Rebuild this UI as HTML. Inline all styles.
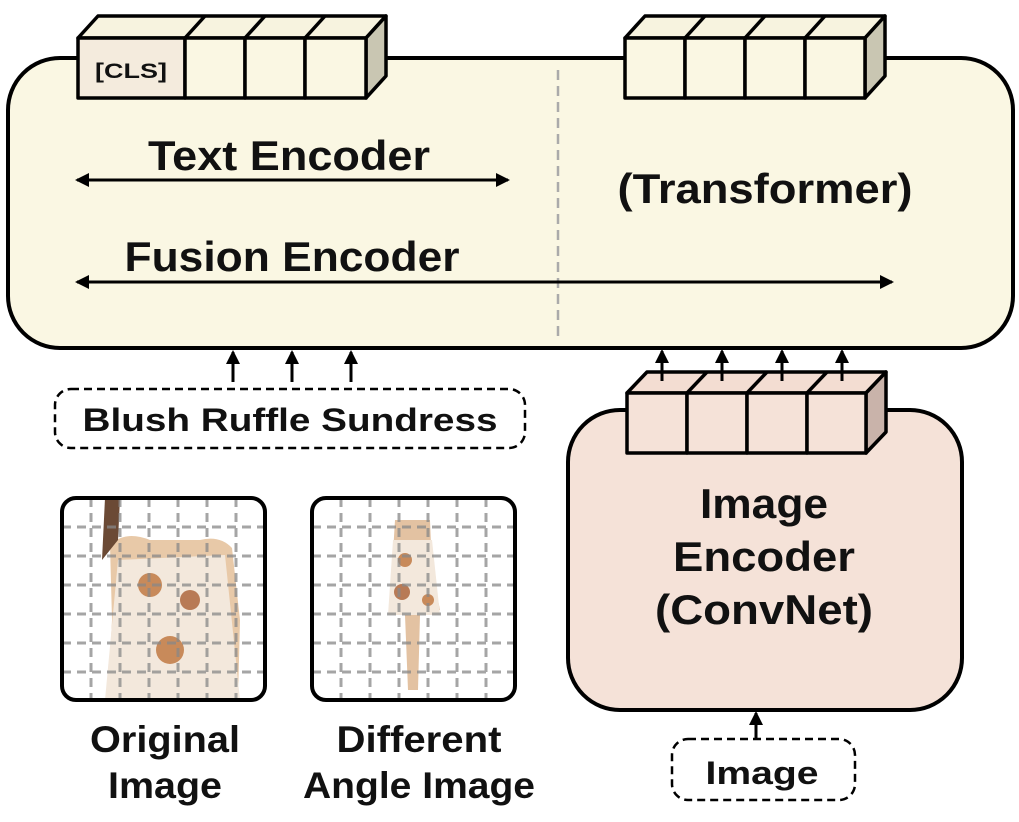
<!DOCTYPE html>
<html><head><style>body{margin:0;background:#fff}svg{display:block}text{font-family:"Liberation Sans",sans-serif;font-weight:bold;fill:#111}</style></head><body>
<svg width="1019" height="822" viewBox="0 0 1019 822">
<defs>
<marker id="au" markerWidth="14" markerHeight="14" refX="12" refY="7" orient="auto" markerUnits="userSpaceOnUse"><path d="M0,0 L14,7 L0,14 z" fill="#000"/></marker>
<marker id="as" markerWidth="14" markerHeight="14" refX="12" refY="7" orient="auto-start-reverse" markerUnits="userSpaceOnUse"><path d="M0,0 L14,7 L0,14 z" fill="#000"/></marker>
</defs>
<rect x="8" y="58" width="1005" height="290" rx="52" fill="#faf7e3" stroke="#000" stroke-width="4"/>
<line x1="558" y1="70" x2="558" y2="338" stroke="#aaa" stroke-width="2.5" stroke-dasharray="10,6"/>
<g stroke="#000" stroke-width="3.5" stroke-linejoin="round">
<path d="M78,38 L98,16 L386,16 L366,38 Z" fill="#f7f3df"/>
<path d="M366,38 L386,16 L386,76 L366,98 Z" fill="#c9c6b2"/>
<rect x="78" y="38" width="107" height="60" fill="#f4ebdd"/>
<rect x="185" y="38" width="60" height="60" fill="#faf7e3"/>
<rect x="245" y="38" width="60" height="60" fill="#faf7e3"/>
<rect x="305" y="38" width="61" height="60" fill="#faf7e3"/>
<line x1="185" y1="38" x2="205" y2="16"/><line x1="245" y1="38" x2="265" y2="16"/><line x1="305" y1="38" x2="325" y2="16"/>
</g>
<text x="131" y="78" font-size="21" text-anchor="middle" textLength="72" lengthAdjust="spacingAndGlyphs">[CLS]</text>
<g stroke="#000" stroke-width="3.5" stroke-linejoin="round">
<path d="M625,38 L645,16 L885,16 L865,38 Z" fill="#f7f3df"/>
<path d="M865,38 L885,16 L885,76 L865,98 Z" fill="#c9c6b2"/>
<rect x="625" y="38" width="60" height="60" fill="#faf7e3"/>
<rect x="685" y="38" width="60" height="60" fill="#faf7e3"/>
<rect x="745" y="38" width="60" height="60" fill="#faf7e3"/>
<rect x="805" y="38" width="60" height="60" fill="#faf7e3"/>
<line x1="685" y1="38" x2="705" y2="16"/><line x1="745" y1="38" x2="765" y2="16"/><line x1="805" y1="38" x2="825" y2="16"/>
</g>
<text x="289" y="170" font-size="42" text-anchor="middle" textLength="282" lengthAdjust="spacingAndGlyphs">Text Encoder</text>
<line x1="77" y1="180" x2="508" y2="180" stroke="#000" stroke-width="3" marker-start="url(#as)" marker-end="url(#as)"/>
<text x="292" y="271" font-size="42" text-anchor="middle" textLength="335" lengthAdjust="spacingAndGlyphs">Fusion Encoder</text>
<line x1="77" y1="282" x2="892" y2="282" stroke="#000" stroke-width="3" marker-start="url(#as)" marker-end="url(#as)"/>
<text x="765" y="203" font-size="42" text-anchor="middle" textLength="295" lengthAdjust="spacingAndGlyphs">(Transformer)</text>
<g stroke="#000" stroke-width="3">
<line x1="233" y1="382" x2="233" y2="352" marker-end="url(#au)"/>
<line x1="292" y1="382" x2="292" y2="352" marker-end="url(#au)"/>
<line x1="351" y1="382" x2="351" y2="352" marker-end="url(#au)"/>
</g>
<rect x="55" y="389" width="470" height="59" rx="16" fill="none" stroke="#000" stroke-width="2.5" stroke-dasharray="8,5"/>
<text x="290" y="431" font-size="32" text-anchor="middle" textLength="415" lengthAdjust="spacingAndGlyphs">Blush Ruffle Sundress</text>
<rect x="568" y="410" width="394" height="300" rx="52" fill="#f5e2d8" stroke="#000" stroke-width="4"/>
<g stroke="#000" stroke-width="3.5" stroke-linejoin="round">
<path d="M627,393 L647,372 L886,372 L866,393 Z" fill="#f3ddd2"/>
<path d="M866,393 L886,372 L886,432 L866,453 Z" fill="#c9b3aa"/>
<rect x="627" y="393" width="60" height="60" fill="#f5e2d8"/>
<rect x="687" y="393" width="60" height="60" fill="#f5e2d8"/>
<rect x="747" y="393" width="60" height="60" fill="#f5e2d8"/>
<rect x="807" y="393" width="59" height="60" fill="#f5e2d8"/>
<line x1="687" y1="393" x2="707" y2="372"/><line x1="747" y1="393" x2="767" y2="372"/><line x1="807" y1="393" x2="827" y2="372"/>
</g>
<g stroke="#000" stroke-width="3">
<line x1="662" y1="381" x2="662" y2="351" marker-end="url(#au)"/>
<line x1="722" y1="381" x2="722" y2="351" marker-end="url(#au)"/>
<line x1="782" y1="381" x2="782" y2="351" marker-end="url(#au)"/>
<line x1="842" y1="381" x2="842" y2="351" marker-end="url(#au)"/>
</g>
<text x="764" y="518" font-size="42" text-anchor="middle" textLength="128" lengthAdjust="spacingAndGlyphs">Image</text>
<text x="764" y="571" font-size="42" text-anchor="middle" textLength="182" lengthAdjust="spacingAndGlyphs">Encoder</text>
<text x="764" y="624" font-size="42" text-anchor="middle" textLength="218" lengthAdjust="spacingAndGlyphs">(ConvNet)</text>
<line x1="756" y1="740" x2="756" y2="713" stroke="#000" stroke-width="3" marker-end="url(#au)"/>
<rect x="672" y="739" width="183" height="61" rx="16" fill="none" stroke="#000" stroke-width="2.5" stroke-dasharray="8,5"/>
<text x="762" y="784" font-size="32" text-anchor="middle" textLength="113" lengthAdjust="spacingAndGlyphs">Image</text>
<g>
<rect x="62" y="498" width="203" height="202" rx="14" fill="#fff"/>
<path d="M110,545 Q125,530 150,540 L200,540 Q220,535 232,548 L240,620 L238,700 L108,700 L112,620 Z" fill="#e8c9a8"/>
<path d="M118,560 L225,555 L240,700 L105,700 Z" fill="#f3e8dc"/>
<circle cx="150" cy="585" r="12" fill="#c88a5a"/><circle cx="190" cy="600" r="10" fill="#b87a55"/><circle cx="170" cy="650" r="14" fill="#c88a5a"/>
<path d="M105,498 L120,498 L118,540 L102,560 Z" fill="#6b4a35"/>
<g stroke="#888" stroke-width="3" stroke-dasharray="9,6" opacity="0.75">
<line x1="62" y1="527" x2="265" y2="527"/><line x1="62" y1="556" x2="265" y2="556"/><line x1="62" y1="585" x2="265" y2="585"/><line x1="62" y1="614" x2="265" y2="614"/><line x1="62" y1="643" x2="265" y2="643"/><line x1="62" y1="672" x2="265" y2="672"/>
<line x1="91" y1="498" x2="91" y2="700"/><line x1="120" y1="498" x2="120" y2="700"/><line x1="149" y1="498" x2="149" y2="700"/><line x1="178" y1="498" x2="178" y2="700"/><line x1="207" y1="498" x2="207" y2="700"/><line x1="236" y1="498" x2="236" y2="700"/>
</g>
<rect x="62" y="498" width="203" height="202" rx="14" fill="none" stroke="#000" stroke-width="4"/>
</g>
<g>
<rect x="312" y="498" width="203" height="202" rx="14" fill="#fff"/>
<path d="M395,520 L430,520 L432,570 L440,610 L420,615 L418,690 L408,690 L405,615 L390,610 L392,570 Z" fill="#e3c2a2"/>
<path d="M393,540 L432,540 L440,615 L388,615 Z" fill="#f3e8dc"/>
<circle cx="405" cy="560" r="7" fill="#c88a5a"/><circle cx="402" cy="592" r="8" fill="#b87a55"/><circle cx="428" cy="600" r="6" fill="#c88a5a"/>
<g stroke="#888" stroke-width="3" stroke-dasharray="9,6" opacity="0.75">
<line x1="312" y1="527" x2="515" y2="527"/><line x1="312" y1="556" x2="515" y2="556"/><line x1="312" y1="585" x2="515" y2="585"/><line x1="312" y1="614" x2="515" y2="614"/><line x1="312" y1="643" x2="515" y2="643"/><line x1="312" y1="672" x2="515" y2="672"/>
<line x1="341" y1="498" x2="341" y2="700"/><line x1="370" y1="498" x2="370" y2="700"/><line x1="399" y1="498" x2="399" y2="700"/><line x1="428" y1="498" x2="428" y2="700"/><line x1="457" y1="498" x2="457" y2="700"/><line x1="486" y1="498" x2="486" y2="700"/>
</g>
<rect x="312" y="498" width="203" height="202" rx="14" fill="none" stroke="#000" stroke-width="4"/>
</g>
<text x="165" y="752" font-size="37" text-anchor="middle" textLength="150" lengthAdjust="spacingAndGlyphs">Original</text>
<text x="165" y="798" font-size="37" text-anchor="middle" textLength="114" lengthAdjust="spacingAndGlyphs">Image</text>
<text x="419" y="752" font-size="37" text-anchor="middle" textLength="165" lengthAdjust="spacingAndGlyphs">Different</text>
<text x="419" y="798" font-size="37" text-anchor="middle" textLength="232" lengthAdjust="spacingAndGlyphs">Angle Image</text>
</svg>
</body></html>
